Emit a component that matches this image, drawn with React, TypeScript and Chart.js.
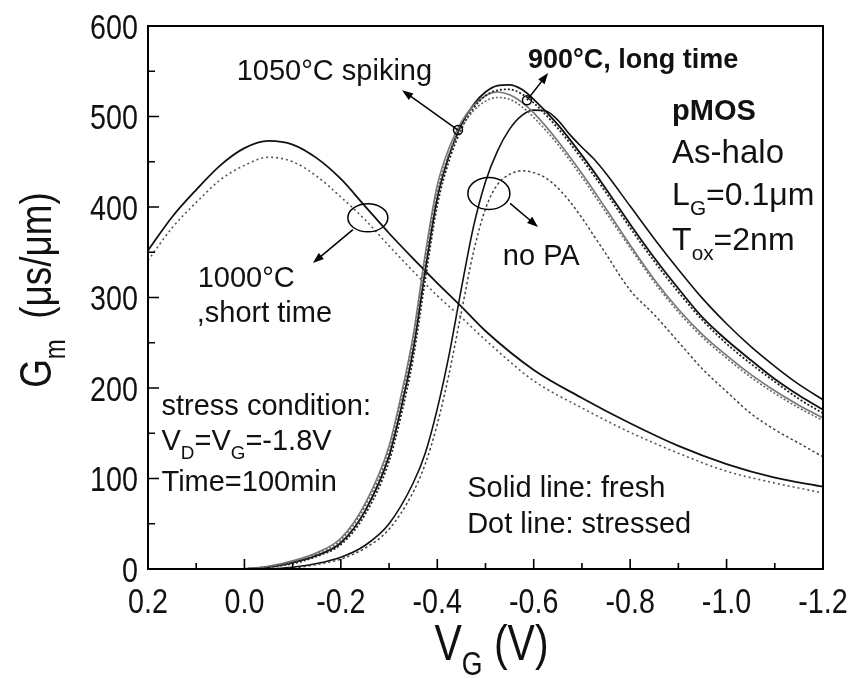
import React, { useEffect, useRef } from "react";
import { Chart, registerables } from "chart.js";

Chart.register(...registerables);

// Axis ticks
const vgTicks = [0.2, 0.0, -0.2, -0.4, -0.6, -0.8, -1.0, -1.2];
const vgTickLabels = ["0.2", "0.0", "-0.2", "-0.4", "-0.6", "-0.8", "-1.0", "-1.2"];
const vgMinorTicks = [0.1, -0.1, -0.3, -0.5, -0.7, -0.9, -1.1];
const gmTicks = [0, 100, 200, 300, 400, 500, 600];
const gmTickLabels = ["0", "100", "200", "300", "400", "500", "600"];
const gmMinorTicks = [50, 150, 250, 350, 450, 550];

// 1000°C, short time
const vg1000 = [0.2, 0.15, 0.1, 0.05, 0.0, -0.05, -0.1, -0.15, -0.2, -0.25, -0.3, -0.35, -0.4, -0.45, -0.5, -0.6, -0.7, -0.8, -0.9, -1.0, -1.1, -1.2];
const gm1000Fresh = [352, 389, 419, 446, 465, 473, 469, 454, 431, 401, 371, 343, 316, 290, 263, 220, 189, 161, 136, 116, 101, 91];
const gm1000Stressed = [341, 377, 405, 430, 446, 455, 450, 434, 411, 386, 357, 329, 302, 278, 253, 208, 178, 151, 128, 108, 95, 84];

// 1050°C spiking and 900°C, long time share one gate-voltage grid
const vgAnneal = [0.0, -0.05, -0.1, -0.15, -0.2, -0.25, -0.3, -0.325, -0.35, -0.375, -0.4, -0.425, -0.45, -0.475, -0.5, -0.525, -0.55, -0.575, -0.6, -0.65, -0.7, -0.75, -0.8, -0.85, -0.9, -0.95, -1.0, -1.05, -1.1, -1.15, -1.2];
const gm1050Fresh = [0, 3, 9, 18, 34, 72, 136, 192, 258, 348, 424, 466, 494, 512, 523, 527, 524, 516, 504, 473, 437, 398, 358, 320, 287, 259, 236, 215, 197, 181, 167];
const gm1050Stressed = [0, 3, 8, 17, 32, 69, 131, 186, 251, 340, 417, 460, 488, 506, 517, 521, 519, 511, 499, 469, 433, 394, 355, 317, 284, 256, 233, 212, 194, 178, 164];
const gm900Fresh = [0, 2, 7, 15, 29, 64, 125, 178, 242, 330, 410, 458, 491, 513, 527, 534, 535, 530, 519, 491, 457, 420, 381, 344, 310, 278, 253, 231, 210, 192, 176];
const gm900Stressed = [0, 2, 6, 14, 27, 60, 119, 170, 233, 320, 402, 452, 486, 509, 523, 529, 530, 525, 515, 487, 453, 416, 377, 340, 306, 275, 249, 227, 207, 188, 172];

// no PA
const vgNoPA = [-0.05, -0.1, -0.15, -0.2, -0.25, -0.3, -0.35, -0.375, -0.4, -0.425, -0.45, -0.475, -0.5, -0.525, -0.55, -0.575, -0.6, -0.625, -0.65, -0.675, -0.7, -0.725, -0.75, -0.8, -0.85, -0.9, -0.95, -1.0, -1.05, -1.1, -1.15, -1.2];
const gmNoPAFresh = [0, 2, 6, 13, 26, 50, 95, 128, 177, 238, 310, 378, 428, 462, 486, 501, 507, 506, 496, 480, 466, 453, 437, 401, 365, 331, 299, 271, 246, 224, 204, 187];
const gmNoPAStressed = [0, 1, 5, 11, 23, 44, 85, 116, 160, 217, 284, 350, 398, 425, 436, 440, 438, 432, 421, 406, 388, 368, 348, 308, 281, 251, 221, 196, 172, 154, 139, 124];

const FONT = "'Liberation Sans', Arial, Helvetica, sans-serif";
const NARROW = 0.82; // horizontal squeeze for the condensed axis lettering

type Part = [string, boolean?];

function richWidth(ctx: CanvasRenderingContext2D, parts: Part[], size: number, bold = false) {
  let w = 0;
  for (const [t, sub] of parts) {
    ctx.font = `${bold ? "bold " : ""}${sub ? size * 0.65 : size}px ${FONT}`;
    w += ctx.measureText(t).width;
  }
  return w;
}

function drawRich(ctx: CanvasRenderingContext2D, parts: Part[], x: number, y: number, size: number, bold = false) {
  let cx = x;
  ctx.textBaseline = "alphabetic";
  ctx.textAlign = "left";
  for (const [t, sub] of parts) {
    ctx.font = `${bold ? "bold " : ""}${sub ? size * 0.65 : size}px ${FONT}`;
    ctx.fillText(t, cx, sub ? y + size * 0.3 : y);
    cx += ctx.measureText(t).width;
  }
}

// condensed text: align 0 = left, 0.5 = centre, 1 = right; rotation in radians
function drawNarrow(ctx: CanvasRenderingContext2D, parts: Part[], x: number, y: number, size: number, align: number, rot = 0) {
  const w = richWidth(ctx, parts, size);
  ctx.save();
  ctx.translate(x, y);
  if (rot) ctx.rotate(rot);
  ctx.scale(NARROW, 1);
  drawRich(ctx, parts, -w * align, 0, size);
  ctx.restore();
}

function arrow(ctx: CanvasRenderingContext2D, x1: number, y1: number, x2: number, y2: number) {
  const ang = Math.atan2(y2 - y1, x2 - x1);
  const len = 11;
  const hw = 4;
  ctx.beginPath();
  ctx.moveTo(x1, y1);
  ctx.lineTo(x2 - Math.cos(ang) * len * 0.7, y2 - Math.sin(ang) * len * 0.7);
  ctx.stroke();
  ctx.beginPath();
  ctx.moveTo(x2, y2);
  ctx.lineTo(x2 - Math.cos(ang) * len + Math.sin(ang) * hw, y2 - Math.sin(ang) * len - Math.cos(ang) * hw);
  ctx.lineTo(x2 - Math.cos(ang) * len - Math.sin(ang) * hw, y2 - Math.sin(ang) * len + Math.cos(ang) * hw);
  ctx.closePath();
  ctx.fill();
}

// Text notes anchored in data coordinates (V, Gm)
const notes: { v: number; g: number; parts: Part[]; size: number; bold?: boolean }[] = [
  { v: 0.016, g: 540, parts: [["1050°C spiking"]], size: 29 },
  { v: -0.588, g: 554, parts: [["900°C, long time"]], size: 27, bold: true },
  { v: -0.887, g: 496, parts: [["pMOS"]], size: 29, bold: true },
  { v: -0.887, g: 449, parts: [["As-halo"]], size: 33 },
  { v: -0.887, g: 402, parts: [["L"], ["G", true], ["=0.1μm"]], size: 32 },
  { v: -0.887, g: 352, parts: [["T"], ["ox", true], ["=2nm"]], size: 32 },
  { v: -0.536, g: 336, parts: [["no PA"]], size: 29 },
  { v: 0.097, g: 312, parts: [["1000°C"]], size: 29 },
  { v: 0.099, g: 273, parts: [[",short time"]], size: 29 },
  { v: 0.172, g: 170, parts: [["stress condition:"]], size: 29 },
  { v: 0.172, g: 131, parts: [["V"], ["D", true], ["=V"], ["G", true], ["=-1.8V"]], size: 29 },
  { v: 0.172, g: 86, parts: [["Time=100min"]], size: 29 },
  { v: -0.462, g: 80, parts: [["Solid line: fresh"]], size: 29 },
  { v: -0.462, g: 40, parts: [["Dot line: stressed"]], size: 29 },
];

// Circles / ellipses marking curve groups, with arrows to their labels
const markers = [
  { v: -0.443, g: 485, rx: 4.5, ry: 4.5, tv: -0.327, tg: 529, fv: -0.443, fg: 485 },
  { v: -0.586, g: 518, rx: 4.5, ry: 4.5, tv: -0.630, tg: 548, fv: -0.586, fg: 518 },
  { v: -0.507, g: 415, rx: 21, ry: 16, tv: -0.609, tg: 378, fv: -0.551, fg: 404 },
  { v: -0.256, g: 388, rx: 20, ry: 14, tv: -0.142, tg: 338, fv: -0.225, fg: 375 },
];

const decorations = {
  id: "gmDecorations",
  afterDatasetsDraw(chart: any) {
    const { ctx, chartArea: a, scales } = chart;
    const xs = scales.x;
    const ys = scales.y;
    const X = (v: number) => xs.getPixelForValue(v);
    const Y = (g: number) => ys.getPixelForValue(g);
    ctx.save();
    ctx.fillStyle = "#000";
    ctx.strokeStyle = "#000";

    // frame
    ctx.lineWidth = 2;
    ctx.strokeRect(a.left, a.top, a.right - a.left, a.bottom - a.top);

    // inward tick marks
    ctx.lineWidth = 1.6;
    ctx.beginPath();
    for (const v of vgTicks) { const px = X(v); ctx.moveTo(px, a.bottom); ctx.lineTo(px, a.bottom - 10); }
    for (const v of vgMinorTicks) { const px = X(v); ctx.moveTo(px, a.bottom); ctx.lineTo(px, a.bottom - 6); }
    for (const g of gmTicks) { const py = Y(g); ctx.moveTo(a.left, py); ctx.lineTo(a.left + 11, py); }
    for (const g of gmMinorTicks) { const py = Y(g); ctx.moveTo(a.left, py); ctx.lineTo(a.left + 7, py); }
    ctx.stroke();

    // tick labels
    ctx.fillStyle = "#111";
    vgTicks.forEach((v, i) => drawNarrow(ctx, [[vgTickLabels[i]]], X(v), a.bottom + 44, 35, 0.5));
    gmTicks.forEach((g, i) => drawNarrow(ctx, [[gmTickLabels[i]]], a.left - 10, Y(g) + 12.5, 35, 1));

    // markers and arrows
    ctx.fillStyle = "#000";
    ctx.lineWidth = 1.5;
    for (const m of markers) {
      ctx.beginPath();
      ctx.ellipse(X(m.v), Y(m.g), m.rx, m.ry, 0, 0, Math.PI * 2);
      ctx.stroke();
      arrow(ctx, X(m.fv), Y(m.fg), X(m.tv), Y(m.tg));
    }

    // notes
    ctx.fillStyle = "#111";
    for (const n of notes) drawRich(ctx, n.parts, X(n.v), Y(n.g), n.size, !!n.bold);

    // axis titles
    drawNarrow(ctx, [["V"], ["G", true], [" (V)"]], (a.left + a.right) / 2 + 6, 660, 50, 0.5);
    drawNarrow(ctx, [["G"], ["m", true], ["  (μs/μm)"]], 51, 290, 45, 0.5, -Math.PI / 2);
    ctx.restore();
  },
};

const solid = (data: { x: number; y: number }[], color: string, width: number) => ({
  data, borderColor: color, borderWidth: width, pointRadius: 0, fill: false,
  cubicInterpolationMode: "monotone" as const,
});
const dotted = (data: { x: number; y: number }[], color: string, width: number, dash: number[]) => ({
  ...solid(data, color, width), borderDash: dash,
});
const pairs = (vs: number[], gs: number[]) => vs.map((v, i) => ({ x: v, y: gs[i] }));

export default function App() {
  const ref = useRef<HTMLCanvasElement | null>(null);

  useEffect(() => {
    if (!ref.current) return;
    const chart = new Chart(ref.current, {
      type: "line",
      data: {
        datasets: [
          dotted(pairs(vg1000, gm1000Stressed), "#555", 1.6, [2, 3]),
          dotted(pairs(vgNoPA, gmNoPAStressed), "#444", 1.5, [2.5, 2.5]),
          dotted(pairs(vgAnneal, gm1050Stressed), "#666", 1.6, [2, 2]),
          dotted(pairs(vgAnneal, gm900Stressed), "#222", 1.8, [2, 2]),
          solid(pairs(vg1000, gm1000Fresh), "#111", 1.8),
          solid(pairs(vgAnneal, gm1050Fresh), "#777", 1.6),
          solid(pairs(vgAnneal, gm900Fresh), "#111", 1.8),
          solid(pairs(vgNoPA, gmNoPAFresh), "#111", 1.6),
        ] as any,
      },
      options: {
        animation: false,
        responsive: false,
        devicePixelRatio: 1,
        layout: { padding: { left: 0, top: 26, right: 37, bottom: 0 } },
        plugins: { legend: { display: false }, tooltip: { enabled: false } },
        scales: {
          x: {
            type: "linear",
            reverse: true,
            min: -1.2,
            max: 0.2,
            grid: { display: false, drawTicks: false },
            border: { display: false },
            ticks: { display: false },
            afterBuildTicks: (s: any) => { s.ticks = vgTicks.map((v) => ({ value: v })); },
            afterFit: (s: any) => { s.height = 106; },
          },
          y: {
            type: "linear",
            min: 0,
            max: 600,
            grid: { display: false, drawTicks: false },
            border: { display: false },
            ticks: { display: false },
            afterBuildTicks: (s: any) => { s.ticks = gmTicks.map((v) => ({ value: v })); },
            afterFit: (s: any) => { s.width = 148; },
          },
        },
      },
      plugins: [decorations],
    });
    return () => chart.destroy();
  }, []);

  return (
    <div style={{ position: "fixed", left: 0, top: 0, width: 860, height: 675, background: "#fff" }}>
      <canvas ref={ref} width={860} height={675} style={{ display: "block" }} />
    </div>
  );
}
